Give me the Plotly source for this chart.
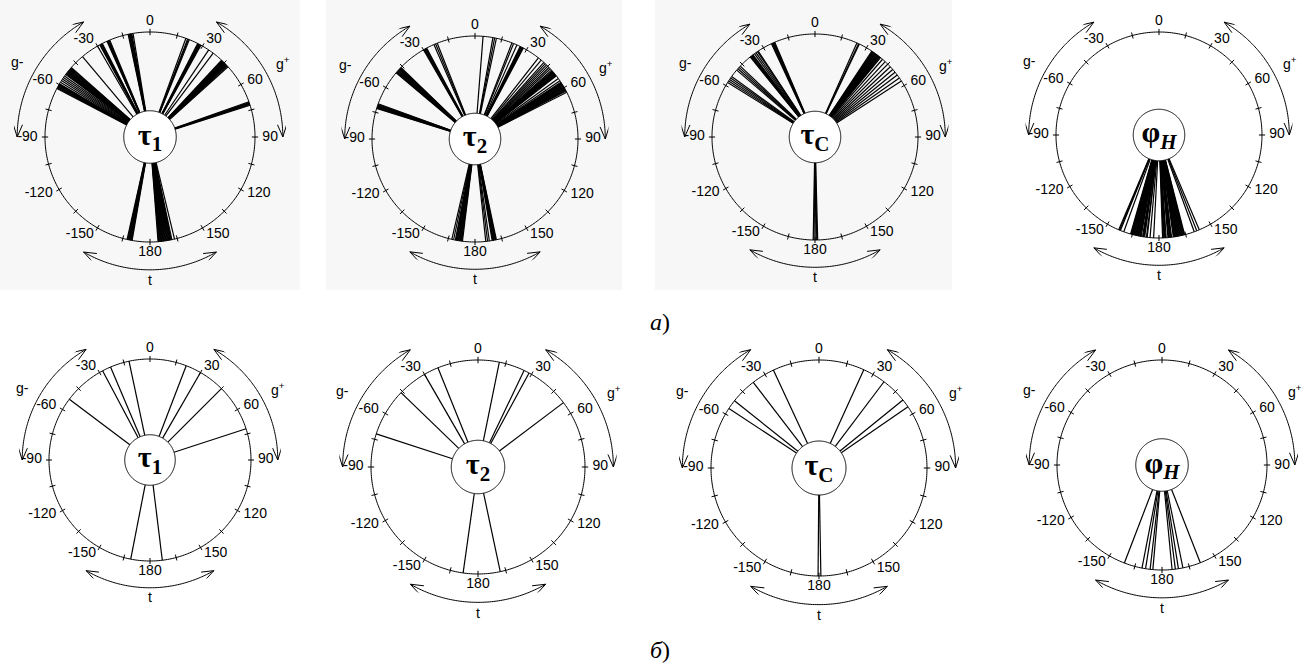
import numpy as np
import plotly.graph_objects as go

W, H = 1304, 664

# ---------------- data ----------------
TICK_VALS = [0, 30, 60, 90, 120, 150, 180, -150, -120, -90, -60, -30]
TICK_TEXT = ["0", "30", "60", "90", "120", "150", "180", "-150", "-120", "-90", "-60", "-30"]
MINOR_TICKS = list(range(0, 360, 15))

ARC_TEXT = ["g-", "g<sup>+</sup>", "t"]
ARC_FROM = [-90, 30, 150]
ARC_TO = [-30, 90, 210]
ARC_TEXT_THETA = [-60.5, 61, 180]

CENTER_TEXT = ["τ<sub>1</sub>", "τ<sub>2</sub>", "τ<sub>C</sub>", "φ<sub><i>H</i></sub>"]
ROW_TEXT = ["<i>а</i>)", "<i>б</i>)"]

# row a) angles (degrees, clockwise from top)
T1_A = [-12, -11.6, -11.2, -10.8, -10.4, -10, -9.3,
        -30, -28.6, -28.2, -27.8, -27.4, -27, -24.2, -23.8, -23.4, -23, -22.6, -40,
        -62.5, -62, -61.6, -61.2, -60.8, -60.4, -60, -59.6, -58.5, -57.5, -56.5, -55.5, -54.5,
        -53.4, -53, -52.6, -52.2, -51.8, -51.4, -51, -50.6, -50.2, -49.8, -49.4, -49, -48.6,
        20, 21, 21.5, 22, 27, 27.4, 27.8, 28.2, 28.6, 29, 34, 37,
        43, 43.4, 43.8, 44.2, 44.6, 45, 45.4, 45.8, 46.2, 46.6, 47, 47.4, 48,
        70.4, 70.8, 71.2, 71.6, 72, 72.4,
        -170.2, -169.8, -169.4, -169, -168.6, -168.2, -167.8, -167.4,
        175.6, 175.2, 174.8, 174.4, 174, 173.6, 173.2, 172.8, 172.4, 172, 171.6, 171.2,
        170.8, 170.4, 170, 169.6, 169.2, 168.8, 168.4, 168, 166.5]
T2_A = [4.5, 10, 11, 12, 21, 22, 24, 26, 26.4, 26.8, 27.2, 27.6, 28,
        38, 40, 42, 43, 44, 45, 46, 47, 48, 48.6, 49, 49.4, 49.8, 50.2, 50.6, 51, 51.4, 51.8, 52.2,
        54, 55.5, 56.5, 57, 57.4, 57.8, 58.2, 58.6, 59, 59.4, 59.8, 60.2, 60.6, 61, 61.4, 61.8, 62.2, 63,
        -21.5, -22.5, -23.5, -28, -28.4, -28.8, -29.2, -29.6, -30,
        -46, -46.4, -46.8, -47.2, -47.6, -48, -48.4, -48.8, -49.2, -49.6, -50,
        -70, -70.4, -70.8, -71.2, -71.6, -72, -72.4, -72.8,
        -173, -172.6, -172.2, -171.8, -171.4, -171, -170.6, -170.2, -169.8, -169.4, -169, -168, -167,
        174, 173, 172, 170.4, 170, 169.6, 169.2, 168.8, 168.4, 168]
TC_A = [-25, -24.6, -24.2, -23.8, -23.4, -23,
        -39, -38.6, -38.2, -37.8, -37.4, -37, -36, -35, -34, -33.5,
        -49.5, -48.5, -47.5, -46.5, -58, -57, -56, -55, -54,
        24, 25, 25.5, 33.5, 33.9, 34.3, 34.7, 35.1, 35.5, 35.9, 36.3, 36.7, 37.1, 37.5,
        37.9, 38.3, 38.7, 39.1, 39.5,
        41, 43, 45, 47, 49, 51, 53, 55, 57,
        178.5, 179, 179.5, -179.5, -179]
PH_A = [-157, -157.5, -158, -160,
        -164, -164.4, -164.8, -165.2, -165.6, -166, -166.4, -166.8, -167.2, -167.6, -168,
        -168.4, -168.8, -169.2, -169.6, -170, -170.8, -171.2, -171.6, -172, -173, -173.4,
        -175, -177,
        178, 177.6, 177.2, 176.8, 176.4, 176, 175, 174.6, 174.2, 173.8, 173.4, 173, 172, 171.6,
        171.2, 170.8, 170.4, 170, 169.6, 169.2, 168.8, 168.4, 168, 167.6, 167.2, 166.8, 166.4,
        166, 165.6, 160, 158.5, 157]

# row б) angles
T1_B = [-12, -23, -28, -53, 21, 30, 45, 72, -169, 173]
T2_B = [-22, -30, -46, -72, 11.5, 25.5, 28.5, 53, -172, 168]
TC_B = [-25, -37.5, -51.5, -56.5, 24.5, 37, 51, 55.5, 179, -179.5]
PH_B = [-159, -169, -171, -173.5, -175, 174.5, 172.7, 171, 168.5, 158.6]

PANEL_DATA = [T1_A, T2_A, TC_A, PH_A, T1_B, T2_B, TC_B, PH_B]

# ---------------- geometry / style ----------------
RMAX = 1.3
R_HUB = 0.25
ARC_R = 1.265
GEOM = [(150, 137, 105), (475, 139, 103), (815, 137, 103), (1159, 135, 103),
        (150, 460, 101), (478, 467, 107), (819, 468, 108), (1162, 465, 105)]

SANS = "Liberation Sans, Arial, sans-serif"
SERIF = "Liberation Serif, Times New Roman, serif"


def label_pos(v):
    s = np.sin(np.radians(v))
    if abs(s) < 1e-6:
        return "top center" if np.cos(np.radians(v)) > 0 else "bottom center"
    return "middle right" if s > 0 else "middle left"


def label_r(v):
    s = abs(np.sin(np.radians(v)))
    return 1.03 if s < 1e-6 else 1.07


fig = go.Figure()


def segs(angles, r0, r1):
    rr, tt = [], []
    for a in angles:
        rr += [r0, r1, None]
        tt += [a, a, None]
    return rr, tt


layout_polars = {}
annotations = []
for i, (cx, cy, R) in enumerate(GEOM):
    name = "polar" if i == 0 else f"polar{i + 1}"
    sp = name
    rd = RMAX * R
    layout_polars[name] = dict(
        domain=dict(x=[max(0, (cx - rd) / W), min(1, (cx + rd) / W)],
                    y=[max(0, 1 - (cy + rd) / H), min(1, 1 - (cy - rd) / H)]),
        bgcolor="rgba(0,0,0,0)",
        radialaxis=dict(range=[0, RMAX], visible=False, showgrid=False),
        angularaxis=dict(rotation=90, direction="clockwise", showline=False,
                         showticklabels=False, ticks="", showgrid=False),
    )
    line = dict(color="black", width=1)
    # radial data lines
    rr, tt = segs(PANEL_DATA[i], R_HUB, 1.0)
    fig.add_trace(go.Scatterpolar(r=rr, theta=tt, mode="lines",
                                  line=dict(color="black", width=1.2), subplot=sp))
    # outer circle
    th = np.linspace(0, 360, 361)
    fig.add_trace(go.Scatterpolar(r=np.ones_like(th), theta=th, mode="lines", line=line, subplot=sp))
    # tick marks
    rr, tt = segs(MINOR_TICKS, 0.97, 1.03)
    fig.add_trace(go.Scatterpolar(r=rr, theta=tt, mode="lines", line=line, subplot=sp))
    # tick labels
    fig.add_trace(go.Scatterpolar(r=[label_r(v) for v in TICK_VALS], theta=TICK_VALS,
                                  mode="text", text=TICK_TEXT,
                                  textposition=[label_pos(v) for v in TICK_VALS],
                                  textfont=dict(family=SANS, size=14, color="black"),
                                  cliponaxis=False, subplot=sp))
    # arcs with arrow heads
    for k in range(3):
        a0, a1 = ARC_FROM[k], ARC_TO[k]
        at = np.linspace(a0, a1, 80)
        fig.add_trace(go.Scatterpolar(r=np.full_like(at, ARC_R), theta=at, mode="lines",
                                      line=line, subplot=sp, cliponaxis=False))
        d = 5.5
        for tip, back in ((a1, a1 - d), (a0, a0 + d)):
            fig.add_trace(go.Scatterpolar(r=[ARC_R + 0.045, ARC_R, ARC_R - 0.045],
                                          theta=[back, tip, back], mode="lines",
                                          line=line, subplot=sp, cliponaxis=False))
        # arc label (outside the polar disc -> paper annotation at the same polar spot)
        rl = 1.36 if k == 2 else 1.45
        ang = np.radians(ARC_TEXT_THETA[k])
        px = cx + rl * R * np.sin(ang)
        py = cy - rl * R * np.cos(ang)
        annotations.append(dict(text=ARC_TEXT[k], x=px / W, y=1 - py / H,
                                xref="paper", yref="paper", showarrow=False,
                                xanchor="center", yanchor="middle",
                                font=dict(family=SANS, size=14, color="black")))
    # hub circle
    fig.add_trace(go.Scatterpolar(r=np.full_like(th, R_HUB), theta=th, mode="lines",
                                  fill="toself", fillcolor="white", line=line, subplot=sp))
    fig.add_trace(go.Scatterpolar(r=[0], theta=[0], mode="text", text=[f"<b>{CENTER_TEXT[i % 4]}</b>"],
                                  textfont=dict(family=SERIF, size=30, color="black"),
                                  subplot=sp))

shapes = []
for x0, x1 in ((0, 300), (326, 622), (655, 952)):
    shapes.append(dict(type="rect", xref="paper", yref="paper", layer="below",
                       x0=x0 / W, x1=x1 / W, y0=1 - 290 / H, y1=1,
                       fillcolor="#f7f7f7", line=dict(width=0)))

for j, (px, py) in enumerate(((660, 322), (660, 650))):
    annotations.append(dict(text=ROW_TEXT[j], x=px / W, y=1 - py / H, xref="paper", yref="paper",
                            showarrow=False, xanchor="center", yanchor="middle",
                            font=dict(family=SERIF, size=24, color="black")))

fig.update_layout(width=W, height=H, margin=dict(l=0, r=0, t=0, b=0),
                  paper_bgcolor="white", plot_bgcolor="white", showlegend=False,
                  hovermode=False, dragmode=False, shapes=shapes, annotations=annotations,
                  **layout_polars)

fig.write_html("out.html", config={"displayModeBar": False},
               post_script="document.body.style.margin='0';")
